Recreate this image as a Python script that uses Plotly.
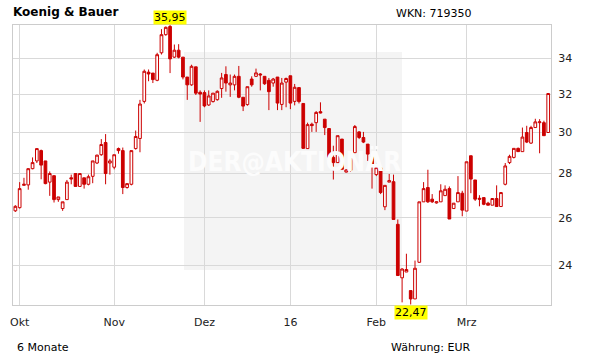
import math
import pandas as pd
import plotly.graph_objects as go

# ---- data ----
holidays = ["2015-12-24", "2015-12-25", "2015-12-31", "2016-01-01", "2016-03-25", "2016-03-28"]
days = [d for d in pd.bdate_range("2015-09-30", "2016-03-30") if d.strftime("%Y-%m-%d") not in holidays]
dates = [d.strftime("%Y-%m-%d") for d in days]

opens = [26.30, 26.44, 27.45, 27.47, 28.23, 28.60, 29.10, 28.60, 27.60, 27.90,
         26.80, 26.40, 26.80, 27.80, 28.00, 27.40, 27.80, 27.50, 27.87, 28.50,
         28.90, 29.50, 28.50, 28.30, 29.20, 29.10, 27.35, 27.50, 29.20, 29.70,
         31.61, 33.20, 33.15, 32.75, 34.30, 35.36, 35.85, 34.05, 34.45, 34.05,
         32.93, 32.50, 33.50, 32.10, 32.08, 31.42, 31.60, 31.70, 32.30, 33.07,
         32.50, 32.50, 32.97, 31.83, 31.44, 32.82, 32.97, 33.10, 32.97, 32.75,
         32.60, 32.93, 31.45, 32.65, 33.00, 31.61, 32.35, 31.50, 29.20, 30.42,
         30.50, 31.07, 30.68, 30.20, 28.77, 28.52, 29.67, 28.07, 28.15, 29.00,
         30.03, 29.75, 29.42, 28.82, 27.95, 28.27, 26.48, 27.60, 27.62, 25.71,
         23.50, 23.73, 23.00, 22.68, 24.12, 26.70, 27.35, 26.82, 26.65, 26.70,
         26.98, 27.30, 26.40, 26.70, 27.09, 26.29, 28.85, 27.70, 26.86, 26.89,
         26.64, 26.55, 26.85, 26.49, 27.50, 28.52, 28.77, 29.21, 29.05, 30.00,
         29.47, 30.25, 30.50, 30.50, 30.00]
highs = [26.55, 27.60, 27.80, 28.25, 28.77, 29.20, 29.15, 28.60, 28.10, 27.90,
         26.92, 26.70, 27.70, 27.95, 28.00, 28.00, 27.80, 27.95, 28.60, 28.90,
         29.67, 29.92, 28.70, 28.90, 29.25, 29.25, 27.53, 29.10, 30.10, 31.69,
         33.35, 33.35, 33.15, 34.30, 35.69, 35.85, 35.95, 34.78, 34.80, 34.05,
         32.93, 33.62, 33.50, 32.20, 32.20, 32.20, 32.05, 32.20, 33.16, 33.53,
         33.07, 33.07, 33.55, 31.83, 32.40, 32.97, 33.40, 33.15, 32.97, 32.88,
         32.88, 32.93, 32.88, 32.90, 33.00, 32.55, 32.35, 31.50, 30.50, 30.50,
         31.10, 31.56, 30.68, 30.20, 29.34, 29.84, 29.67, 28.20, 28.98, 30.38,
         30.07, 30.03, 29.42, 28.82, 28.35, 28.27, 27.45, 27.98, 27.95, 25.92,
         23.88, 24.47, 23.00, 24.19, 26.70, 27.60, 28.18, 27.05, 26.72, 27.50,
         27.45, 27.40, 26.64, 27.88, 27.20, 28.56, 28.85, 27.70, 27.00, 26.89,
         26.70, 26.85, 27.45, 27.12, 28.50, 28.90, 29.21, 29.25, 30.25, 30.34,
         30.34, 30.70, 30.68, 30.60, 32.03]
lows = [26.25, 26.40, 27.45, 27.25, 28.20, 28.50, 27.73, 27.50, 26.97, 26.67,
        26.70, 26.30, 26.80, 27.50, 27.40, 27.40, 27.30, 27.45, 27.55, 28.45,
        28.85, 27.50, 27.95, 28.20, 28.95, 27.05, 27.30, 27.45, 29.15, 29.02,
        31.50, 32.70, 32.60, 32.70, 34.20, 35.30, 33.15, 34.00, 33.98, 32.80,
        31.69, 32.45, 31.95, 30.54, 31.30, 31.37, 31.55, 31.65, 31.80, 32.13,
        31.85, 32.20, 31.78, 31.10, 31.38, 32.40, 32.93, 32.20, 32.50, 31.15,
        32.40, 31.15, 31.15, 31.30, 31.20, 31.40, 31.50, 29.20, 29.20, 30.03,
        30.03, 30.98, 29.87, 28.77, 27.72, 28.50, 28.20, 28.05, 28.10, 29.00,
        29.67, 29.47, 28.60, 27.30, 27.88, 27.05, 26.33, 27.60, 25.92, 23.59,
        22.55, 23.73, 22.47, 22.68, 24.10, 26.70, 26.65, 26.65, 26.62, 26.70,
        26.98, 25.94, 26.40, 26.70, 26.06, 26.29, 27.09, 26.74, 26.50, 26.55,
        26.55, 26.55, 26.49, 26.49, 27.45, 28.45, 28.72, 29.05, 29.05, 29.47,
        29.43, 30.25, 28.97, 29.84, 30.00]
closes = [26.50, 27.30, 27.50, 28.23, 28.52, 29.20, 28.40, 27.53, 28.00, 26.80,
          26.92, 26.70, 27.60, 27.75, 27.40, 28.00, 27.50, 27.85, 28.60, 28.88,
          29.40, 28.00, 28.60, 28.90, 29.10, 27.35, 27.53, 29.10, 29.80, 31.47,
          33.25, 33.10, 32.79, 34.19, 35.36, 35.80, 33.95, 34.45, 34.05, 32.93,
          32.50, 33.53, 32.05, 32.00, 31.37, 31.90, 32.05, 32.15, 32.88, 32.60,
          32.60, 32.97, 31.83, 31.36, 32.40, 32.50, 33.16, 33.05, 32.56, 32.13,
          32.82, 31.52, 32.60, 32.85, 31.52, 32.37, 31.60, 29.21, 30.40, 30.35,
          31.03, 31.00, 30.25, 28.77, 28.52, 29.84, 28.20, 28.17, 28.98, 30.30,
          29.75, 29.52, 28.93, 28.37, 28.28, 27.12, 27.45, 27.67, 25.92, 23.59,
          23.85, 23.83, 22.68, 23.88, 26.70, 27.30, 26.70, 26.70, 26.70, 27.20,
          27.27, 25.94, 26.64, 27.12, 26.33, 28.56, 27.74, 26.82, 26.82, 26.59,
          26.55, 26.85, 26.49, 27.12, 28.36, 28.82, 29.21, 29.05, 29.77, 29.52,
          30.25, 30.54, 30.54, 29.84, 32.03]

month_ticks = ["2015-10-01", "2015-11-02", "2015-12-01", "2016-01-04", "2016-02-01", "2016-03-01"]
month_labels = ["Okt", "Nov", "Dez", "16", "Feb", "Mrz"]
y_ticks = [24, 26, 28, 30, 32, 34]

hi_val = max(highs)
lo_val = min(lows)
hi_date = dates[highs.index(hi_val)]
lo_date = dates[lows.index(lo_val)]

RED = "#cc0000"
FONT = "DejaVu Sans"

fig = go.Figure(go.Candlestick(
    x=dates, open=opens, high=highs, low=lows, close=closes,
    increasing=dict(line=dict(color=RED, width=1), fillcolor="white"),
    decreasing=dict(line=dict(color=RED, width=1), fillcolor=RED),
    whiskerwidth=0, showlegend=False, hoverinfo="skip",
))

fig.update_layout(
    width=611, height=364,
    margin=dict(l=10, r=60, t=25, b=59),
    paper_bgcolor="white", plot_bgcolor="white",
    boxgap=0.1,
    font=dict(family=FONT, size=11, color="#222222"),
    xaxis=dict(
        type="category", range=[-0.55, 124.65], rangeslider=dict(visible=False),
        tickvals=month_ticks, ticktext=month_labels,
        showgrid=True, gridcolor="#d9d9d9", gridwidth=1,
        showline=True, linecolor="#cccccc", mirror=True,
        ticks="outside", ticklen=7, tickcolor="rgba(0,0,0,0)",
        tickfont=dict(family=FONT, size=11, color="#222222"),
    ),
    yaxis=dict(
        type="log", side="right",
        range=[math.log10(22.45), math.log10(35.94)],
        tickvals=y_ticks, ticktext=[str(v) for v in y_ticks],
        showgrid=True, gridcolor="#d9d9d9", gridwidth=1,
        showline=True, linecolor="#cccccc", mirror=True,
        ticks="outside", ticklen=4, tickcolor="rgba(0,0,0,0)",
        tickfont=dict(family=FONT, size=11, color="#222222"),
    ),
    shapes=[dict(type="rect", xref="paper", yref="paper", x0=0.318, x1=0.723, y0=0.125, y1=0.904,
                 fillcolor="#f4f4f4", line=dict(width=0), layer="below")],
    annotations=[
        dict(text="<b>DER@AKTIONÄR</b>", xref="paper", yref="paper", x=0.523, y=0.514, showarrow=False,
             font=dict(family="DejaVu Sans Condensed, Liberation Sans Narrow, DejaVu Sans", size=26,
                       color="#fcfcfc"),
             xanchor="center", yanchor="middle"),
        dict(text="<b>Koenig &amp; Bauer</b>", xref="paper", yref="paper", x=-0.004, y=1.0, yshift=13,
             xanchor="left", yanchor="middle", showarrow=False, font=dict(family=FONT, size=12, color="#000")),
        dict(text="WKN: 719350", xref="paper", yref="paper", x=0.708, y=1.0, yshift=12,
             xanchor="left", yanchor="middle", showarrow=False, font=dict(family=FONT, size=11, color="#000")),
        dict(text="6 Monate", xref="paper", yref="paper", x=0.004, y=0.0, yshift=-42,
             xanchor="left", yanchor="middle", showarrow=False, font=dict(family=FONT, size=11, color="#000")),
        dict(text="Währung: EUR", xref="paper", yref="paper", x=0.699, y=0.0, yshift=-42,
             xanchor="left", yanchor="middle", showarrow=False, font=dict(family=FONT, size=11, color="#000")),
        dict(text=f"{hi_val:.2f}".replace(".", ","), x=hi_date, xref="x", yref="paper", y=1.0,
             xanchor="center", yanchor="bottom", showarrow=False, bgcolor="#ffff00", borderpad=0,
             font=dict(family=FONT, size=11, color="#000")),
        dict(text=f"{lo_val:.2f}".replace(".", ","), x=lo_date, xref="x", yref="paper", y=0.0,
             xanchor="center", yanchor="top", showarrow=False, bgcolor="#ffff00", borderpad=0,
             font=dict(family=FONT, size=11, color="#000")),
    ],
)

fig.write_html("out.html")
